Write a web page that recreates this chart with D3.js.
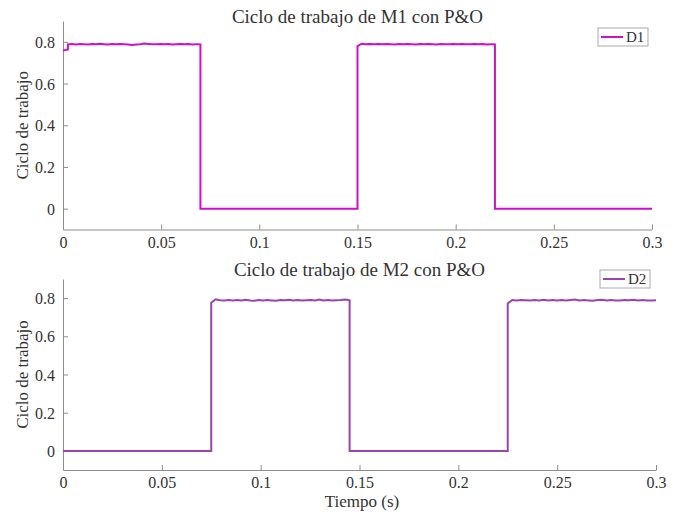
<!DOCTYPE html>
<html>
<head>
<meta charset="utf-8">
<script src="https://cdn.jsdelivr.net/npm/d3@7"></script>
<style>
  body { margin: 0; background: #fff; }
  text { font-family: "Liberation Serif", "Times New Roman", serif; }
</style>
</head>
<body>
<div id="chart-area"></div>
<script>
const W = 674
const H = 515

// tick values and labels
const xTicks = [0, 0.05, 0.1, 0.15, 0.2, 0.25, 0.3]
const xTickLabels = ["0", "0.05", "0.1", "0.15", "0.2", "0.25", "0.3"]
const yTicks = [0, 0.2, 0.4, 0.6, 0.8]
const yTickLabels = ["0", "0.2", "0.4", "0.6", "0.8"]

// duty cycle D1 (M1), segment by segment
const d1Starts = [0, 0.0025, 0.07, 0.15, 0.22]
const d1Ends = [0.0025, 0.07, 0.15, 0.22, 0.3]
const d1Values = [
  [0.758, 0.764],
  [0.788, 0.790, 0.787, 0.790, 0.789, 0.787, 0.790, 0.788, 0.791, 0.789, 0.787, 0.790, 0.788, 0.790,
   0.789, 0.787, 0.785, 0.787, 0.789, 0.792, 0.790, 0.788, 0.789, 0.790, 0.788, 0.790, 0.787, 0.789,
   0.790, 0.788, 0.790, 0.787, 0.789, 0.788],
  [0, 0],
  [0.780, 0.791, 0.789, 0.790, 0.788, 0.790, 0.788, 0.790, 0.789, 0.787, 0.790, 0.788, 0.790, 0.789,
   0.787, 0.790, 0.788, 0.790, 0.789, 0.787, 0.790, 0.788, 0.789, 0.790, 0.788, 0.790, 0.788, 0.789,
   0.790, 0.788, 0.790, 0.787, 0.789, 0.788],
  [0, 0]
]

// duty cycle D2 (M2)
const d2Starts = [0, 0.075, 0.145, 0.225]
const d2Ends = [0.075, 0.145, 0.225, 0.3]
const d2Values = [
  [0, 0],
  [0.776, 0.794, 0.789, 0.787, 0.790, 0.788, 0.790, 0.787, 0.791, 0.788, 0.786, 0.790, 0.787, 0.790,
   0.788, 0.786, 0.790, 0.789, 0.791, 0.787, 0.790, 0.787, 0.789, 0.790, 0.788, 0.792, 0.787, 0.790,
   0.787, 0.789, 0.790, 0.793, 0.788],
  [0, 0],
  [0.772, 0.790, 0.787, 0.790, 0.789, 0.787, 0.790, 0.788, 0.791, 0.787, 0.790, 0.787, 0.790, 0.788,
   0.790, 0.792, 0.787, 0.790, 0.788, 0.786, 0.790, 0.791, 0.787, 0.790, 0.788, 0.787, 0.790, 0.789,
   0.791, 0.787, 0.790, 0.788, 0.787, 0.789]
]

function buildPoints(starts, ends, values) {
  const pts = []
  values.forEach((vals, i) => {
    const n = vals.length
    vals.forEach((v, j) => {
      const t = starts[i] + (ends[i] - starts[i]) * (n === 1 ? 0 : j / (n - 1))
      pts.push([t, v])
    })
  })
  return pts
}

const panels = [
  { title: "Ciclo de trabajo de M1 con P&O", name: "D1", color: "#cc11cc",
    pts: buildPoints(d1Starts, d1Ends, d1Values),
    left: 63, right: 652, top: 21, bottom: 229.5, titleY: 23, legend: [598, 28] },
  { title: "Ciclo de trabajo de M2 con P&O", name: "D2", color: "#9a44b0",
    pts: buildPoints(d2Starts, d2Ends, d2Values),
    left: 63, right: 656, top: 279, bottom: 470, titleY: 276, legend: [600, 270] }
]

const svg = d3.select("#chart-area").append("svg")
  .attr("width", W)
  .attr("height", H)

const axisColor = "#8c8c8c"
const textColor = "#333"

panels.forEach(p => {
  const x = d3.scaleLinear().domain([0, 0.3]).range([p.left, p.right])
  const y = d3.scaleLinear().domain([-0.1, 0.9]).range([p.bottom, p.top])

  const g = svg.append("g")

  // x axis with inward ticks
  g.append("g")
    .attr("transform", `translate(0, ${p.bottom})`)
    .call(d3.axisBottom(x).tickValues(xTicks).tickSizeInner(-5).tickSizeOuter(0)
      .tickPadding(7).tickFormat((d, i) => xTickLabels[i]))
  // y axis
  const yAxis = g.append("g")
    .attr("transform", `translate(${p.left}, 0)`)
    .call(d3.axisLeft(y).tickValues(yTicks).tickSizeInner(-5).tickSizeOuter(0)
      .tickPadding(8).tickFormat((d, i) => yTickLabels[i]))

  g.selectAll(".domain").attr("stroke", axisColor)
  g.selectAll(".tick line").attr("stroke", axisColor)
  g.selectAll(".tick text")
    .attr("fill", textColor)
    .attr("font-size", "16px")
    .attr("font-family", "'Liberation Serif', serif")
  yAxis.selectAll(".tick text").attr("dy", "0.35em")

  // title
  g.append("text")
    .attr("x", (p.left + p.right) / 2)
    .attr("y", p.titleY)
    .attr("text-anchor", "middle")
    .attr("font-size", "19px")
    .attr("fill", textColor)
    .text(p.title)

  // y label
  g.append("text")
    .attr("transform", `translate(28, ${(p.top + p.bottom) / 2}) rotate(-90)`)
    .attr("text-anchor", "middle")
    .attr("font-size", "17px")
    .attr("fill", textColor)
    .text("Ciclo de trabajo")

  // the line
  const line = d3.line().x(d => x(d[0])).y(d => y(d[1]))
  g.append("path")
    .datum(p.pts)
    .attr("fill", "none")
    .attr("stroke", p.color)
    .attr("stroke-width", 2)
    .attr("d", line)

  // legend
  const lg = g.append("g").attr("transform", `translate(${p.legend[0]}, ${p.legend[1]})`)
  lg.append("rect")
    .attr("width", 50).attr("height", 18)
    .attr("fill", "#fff").attr("stroke", "#aaa")
  lg.append("line")
    .attr("x1", 3).attr("x2", 25).attr("y1", 9).attr("y2", 9)
    .attr("stroke", p.color).attr("stroke-width", 2)
  lg.append("text")
    .attr("x", 28).attr("y", 14)
    .attr("font-size", "15px")
    .attr("fill", textColor)
    .text(p.name)
})

// x label
svg.append("text")
  .attr("x", 362)
  .attr("y", 507)
  .attr("text-anchor", "middle")
  .attr("font-size", "17px")
  .attr("fill", textColor)
  .text("Tiempo (s)")
</script>
</body>
</html>
